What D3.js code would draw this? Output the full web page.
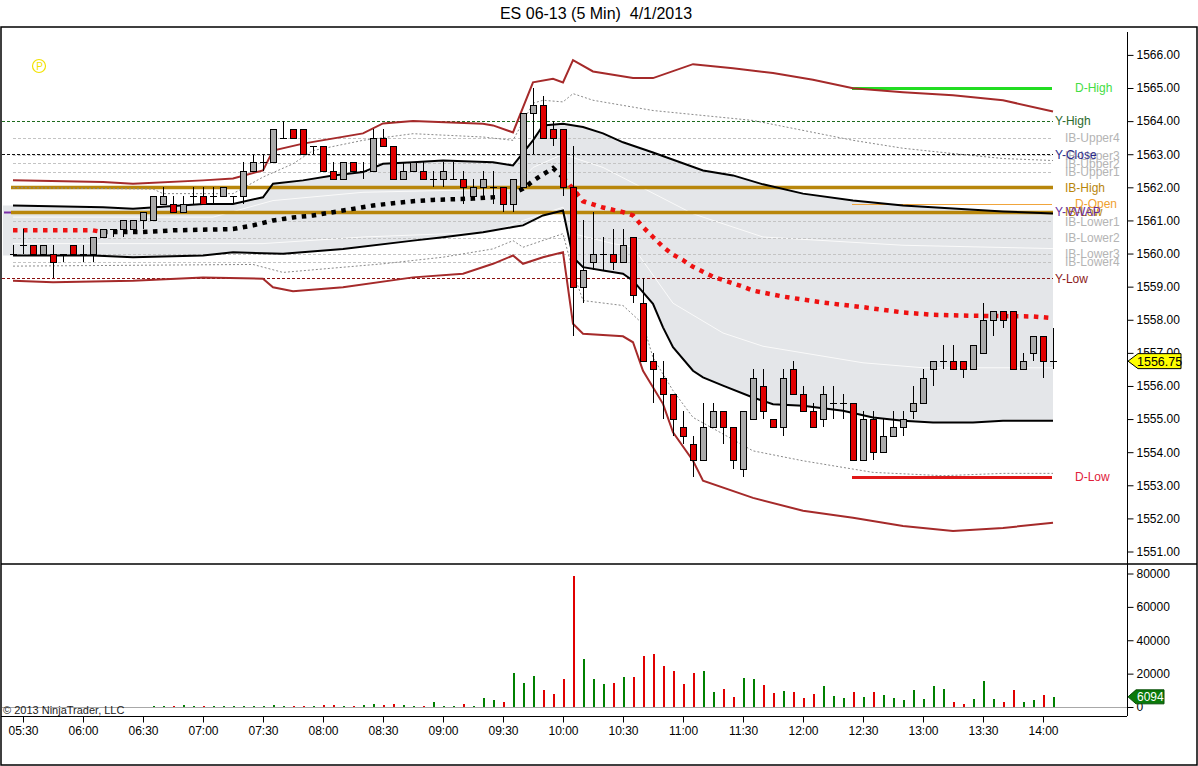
<!DOCTYPE html>
<html>
<head>
<meta charset="utf-8">
<script src="https://cdn.jsdelivr.net/npm/d3@7"></script>
<style>
body { margin: 0; background: #fff; }
svg { display: block; font-family: "Liberation Sans", Arial, sans-serif; }
</style>
</head>
<body>
<div id="chart"></div>
<script>
// ---- data (ES 06-13, 5 min bars, 4/1/2013) ----
var firstBarTime = "05:25";

var opens = [1560.00,1560.25,1560.25,1560.00,1560.00,1560.00,1560.25,1560.00,1560.00,1560.50,
  1560.75,1560.75,1560.75,1561.00,1561.00,1561.50,1561.50,1561.25,1561.75,1561.75,
  1561.75,1561.75,1561.75,1561.75,1562.50,1562.75,1562.75,1563.50,1563.75,1563.75,
  1563.25,1563.25,1562.50,1562.25,1562.75,1562.50,1562.50,1563.50,1563.25,1562.25,
  1562.50,1562.50,1562.25,1562.25,1562.25,1562.25,1561.75,1562.00,1562.00,1562.00,
  1561.50,1562.00,1564.25,1564.50,1563.75,1563.75,1562.00,1559.00,1559.75,1560.00,
  1560.00,1559.75,1560.50,1558.50,1556.75,1556.25,1555.75,1554.75,1554.25,1553.75,
  1554.75,1555.25,1554.75,1553.50,1555.00,1556.00,1555.00,1554.75,1556.50,1555.75,
  1555.25,1555.00,1555.50,1555.50,1555.50,1553.75,1555.00,1554.00,1554.50,1554.75,
  1555.25,1555.50,1556.50,1556.75,1556.75,1556.75,1556.50,1557.00,1558.00,1558.25,
  1558.25,1556.50,1557.00,1557.50,1556.75];
var highs = [1560.25,1560.75,1560.25,1560.25,1560.25,1560.00,1560.25,1560.25,1560.50,1560.75,
  1560.75,1561.00,1561.00,1561.25,1561.75,1562.00,1561.75,1561.75,1562.00,1562.00,
  1562.00,1562.00,1561.75,1562.75,1563.00,1563.00,1563.75,1564.00,1563.75,1563.75,
  1563.25,1563.25,1562.75,1562.75,1562.75,1562.75,1563.75,1563.75,1563.25,1562.75,
  1562.75,1562.75,1562.50,1562.75,1562.75,1562.50,1562.25,1562.50,1562.50,1562.00,
  1562.25,1564.25,1565.00,1564.75,1564.00,1563.75,1563.25,1561.00,1561.25,1560.50,
  1560.75,1560.75,1560.50,1559.25,1557.00,1556.75,1555.75,1555.25,1554.50,1555.50,
  1555.50,1555.25,1554.75,1555.25,1556.50,1556.50,1555.00,1556.50,1556.75,1556.00,
  1555.50,1556.00,1556.00,1555.75,1555.50,1555.25,1555.25,1555.00,1555.25,1555.25,
  1556.00,1556.50,1556.75,1557.25,1557.25,1556.75,1557.25,1558.50,1558.25,1558.25,
  1558.25,1557.00,1557.50,1557.50,1557.75];
var lows = [1560.00,1560.00,1560.00,1560.00,1559.25,1559.75,1560.00,1559.75,1559.75,1560.50,
  1560.50,1560.50,1560.75,1560.75,1561.00,1561.50,1561.25,1561.25,1561.50,1561.50,
  1561.50,1561.75,1561.50,1561.50,1562.50,1562.50,1562.75,1563.50,1563.50,1563.00,
  1563.00,1562.50,1562.25,1562.25,1562.50,1562.25,1562.50,1563.25,1562.25,1562.25,
  1562.50,1562.25,1562.00,1562.00,1562.25,1561.50,1561.75,1561.75,1561.50,1561.25,
  1561.25,1562.00,1563.00,1563.50,1563.25,1561.75,1557.50,1558.50,1559.50,1559.50,
  1559.50,1559.75,1558.50,1556.75,1555.50,1555.00,1554.50,1554.25,1553.25,1553.75,
  1554.75,1554.25,1553.50,1553.25,1555.00,1555.00,1554.75,1554.50,1555.75,1555.25,
  1554.75,1554.75,1555.00,1555.00,1553.75,1553.75,1553.75,1554.00,1554.50,1554.50,
  1555.00,1555.50,1556.00,1556.50,1556.50,1556.25,1556.50,1557.00,1557.50,1557.75,
  1556.50,1556.50,1556.75,1556.25,1556.50];
var closes = [1560.00,1560.25,1560.00,1560.25,1559.75,1560.00,1560.00,1560.00,1560.50,1560.75,
  1560.75,1561.00,1561.00,1561.25,1561.75,1561.75,1561.25,1561.50,1561.75,1561.50,
  1561.75,1562.00,1561.75,1562.50,1562.75,1562.75,1563.75,1563.50,1563.50,1563.00,
  1563.25,1562.50,1562.25,1562.75,1562.50,1562.50,1563.50,1563.25,1562.25,1562.50,
  1562.75,1562.25,1562.25,1562.50,1562.25,1562.00,1562.00,1562.25,1562.00,1561.50,
  1562.25,1564.25,1564.50,1563.50,1563.50,1562.00,1559.00,1559.50,1560.00,1560.00,
  1559.75,1560.25,1558.75,1556.75,1556.50,1555.75,1555.00,1554.50,1553.75,1554.75,
  1555.25,1554.75,1553.75,1555.25,1556.25,1555.25,1554.75,1556.25,1555.75,1555.25,
  1554.75,1555.75,1555.50,1555.50,1553.75,1555.00,1554.00,1554.50,1554.75,1555.00,
  1555.50,1556.25,1556.75,1556.75,1556.50,1556.50,1557.25,1558.00,1558.25,1558.00,
  1556.50,1556.75,1557.50,1556.75,1556.75];
var volumes = [0,0,0,0,0,0,0,0,0,0,
  0,0,0,0,600,600,700,1400,700,300,
  600,300,300,600,600,300,1400,600,300,700,
  700,900,1400,700,300,1200,2000,1400,2000,1200,
  400,700,3200,800,800,2000,800,5600,4400,3200,
  20600,14600,18800,10400,8000,17000,78400,29000,17000,14000,
  14600,18200,18200,30800,32000,24800,21800,14000,20600,21800,
  9200,11000,6200,17600,17000,13400,8600,9800,9200,5600,
  8000,12800,6800,5600,9200,6200,9200,7400,5600,4400,
  10400,5000,12800,11000,3200,2000,5000,15800,5000,3200,
  10400,3200,4400,7400,6094];

var timeLabels = ["05:30","06:00","06:30","07:00","07:30","08:00","08:30","09:00","09:30",
  "10:00","10:30","11:00","11:30","12:00","12:30","13:00","13:30","14:00"];
var priceTicks = [1551,1552,1553,1554,1555,1556,1557,1558,1559,1560,1561,1562,1563,1564,1565,1566];
var volumeTicks = [0,20000,40000,60000,80000];
var lastPrice = 1556.75;

// session VWAP and its bands: [bar index, price]
var vwap = [[0,1560.70],[8,1560.70],[9,1560.65],[13,1560.65],[16,1560.70],[22,1560.74],[24,1560.85],
  [26,1561.00],[28,1561.09],[30,1561.15],[32,1561.25],[34,1561.35],[36,1561.45],[38,1561.52],
  [40,1561.58],[42,1561.62],[46,1561.66],[49,1561.72],[50,1561.80],[51,1561.96],[52,1562.19],
  [53,1562.39],[54,1562.58],[55,1562.30],[56,1561.96],[57,1561.58],[59,1561.39],[61,1561.25],
  [62,1561.15],[63,1560.80],[64,1560.50],[65,1560.20],[66,1559.97],[67,1559.80],[68,1559.60],
  [69,1559.45],[70,1559.30],[71,1559.20],[72,1559.10],[73,1559.00],[74,1558.88],[77,1558.70],
  [81,1558.52],[85,1558.38],[89,1558.22],[92,1558.15],[96,1558.12],[102,1558.10],[104,1558.05]];
var vwapSides = [[0,9,"below"],[9,55,"above"],[55,104,"below"]];

var band1Upper = [[0,1561.45],[9,1561.40],[12,1561.35],[19,1561.50],[22,1561.50],[25,1561.70],
  [26,1562.11],[29,1562.21],[32,1562.36],[35,1562.46],[37,1562.71],[40,1562.76],[43,1562.81],
  [48,1562.76],[50,1562.66],[52,1563.42],[53,1563.87],[55,1563.92],[57,1563.82],[59,1563.63],
  [61,1563.36],[64,1563.05],[69,1562.51],[72,1562.36],[75,1562.09],[79,1561.81],[84,1561.60],
  [89,1561.45],[94,1561.36],[99,1561.27],[104,1561.21]];
var band1Lower = [[0,1559.94],[8,1559.94],[12,1559.89],[19,1559.94],[22,1560.04],[27,1559.99],
  [33,1560.14],[40,1560.39],[43,1560.49],[47,1560.64],[50,1560.80],[51,1560.85],[53,1561.15],
  [55,1561.30],[56,1559.89],[57,1559.59],[59,1559.49],[61,1559.39],[62,1559.18],[64,1558.48],
  [65,1557.77],[66,1557.17],[68,1556.46],[69,1556.26],[71,1556.01],[74,1555.65],[76,1555.45],
  [79,1555.40],[83,1555.25],[86,1555.05],[89,1554.95],[92,1554.90],[96,1554.90],[99,1554.95],
  [104,1554.95]];
var band2Upper = [[0,1561.99],[14,1561.95],[15,1561.81],[22,1561.81],[25,1562.31],[28,1562.71],
  [30,1563.11],[35,1563.42],[40,1563.62],[47,1563.52],[50,1563.42],[52,1564.54],[53,1564.63],
  [55,1564.58],[56,1564.83],[58,1564.63],[64,1564.32],[69,1564.17],[74,1564.02],[79,1563.72],
  [84,1563.42],[89,1563.18],[94,1563.02],[99,1562.87],[104,1562.81]];
var band2Lower = [[0,1559.62],[24,1559.67],[27,1559.43],[37,1559.69],[43,1559.89],[48,1560.14],
  [50,1560.39],[51,1560.19],[55,1560.60],[56,1559.45],[57,1558.58],[61,1558.43],[63,1557.87],
  [64,1556.86],[66,1555.86],[68,1555.05],[71,1554.55],[74,1554.04],[79,1553.74],[86,1553.39],
  [93,1553.29],[99,1553.36],[104,1553.36]];
var band3Upper = [[0,1562.21],[9,1562.16],[12,1562.11],[19,1562.21],[22,1562.27],[25,1562.51],
  [26,1563.11],[29,1563.32],[35,1563.63],[37,1563.93],[40,1564.00],[47,1563.92],[48,1563.87],
  [50,1563.66],[52,1565.17],[54,1565.28],[55,1565.17],[56,1565.84],[58,1565.50],[62,1565.30],
  [64,1565.30],[68,1565.72],[72,1565.60],[76,1565.45],[80,1565.25],[84,1564.99],[89,1564.87],
  [94,1564.78],[99,1564.63],[104,1564.29]];
var band3Lower = [[0,1559.18],[4,1559.13],[12,1559.18],[19,1559.28],[25,1559.24],[26,1558.98],
  [28,1558.86],[33,1558.98],[40,1559.28],[45,1559.39],[48,1559.69],[50,1559.94],[51,1559.69],
  [53,1559.89],[55,1560.04],[56,1557.88],[57,1557.58],[61,1557.50],[62,1557.32],[63,1556.46],
  [65,1555.46],[66,1554.60],[68,1553.74],[69,1553.14],[74,1552.62],[79,1552.23],[84,1552.02],
  [89,1551.77],[94,1551.62],[99,1551.71],[104,1551.87]];
var halfUpper = [[0,1561.10],[20,1561.10],[26,1561.60],[35,1561.85],[50,1561.95],[52,1562.60],
  [55,1563.00],[59,1562.60],[68,1561.20],[75,1560.50],[89,1560.25],[104,1560.15]];
var halfLower = [[0,1560.30],[25,1560.30],[35,1560.50],[48,1560.65],[51,1561.00],[55,1561.40],
  [56,1560.60],[60,1560.30],[62,1560.20],[66,1558.50],[71,1557.60],[75,1557.20],[85,1556.70],
  [91,1556.55],[104,1556.55]];

// key levels, listed in drawing order (later ones cover earlier ones)
var levelNames  = ["IB-Upper4","IB-Upper3","IB-Upper2","IB-Upper1","IB-Lower1","IB-Lower2",
  "IB-Lower3","IB-Lower4","Y-High","Y-Close","Y-Low","Y-VWAP","IB-High","IB-Low","D-Open","D-High","D-Low"];
var levelValues = [1563.50,1562.97,1562.72,1562.47,1560.97,1560.47,
  1560.00,1559.74,1564.00,1563.00,1559.25,1561.25,1562.00,1561.25,1561.50,1565.00,1553.25];
var levelStartBar = {"D-Open":84,"D-High":84,"D-Low":84};

// ---- layout ----
var W = 1198, H = 766;
var plotL = 2, axisX = 1127, priceTop = 28, priceBottom = 563, volBottom = 716;

var svg = d3.select("#chart").append("svg").attr("width", W).attr("height", H);
svg.append("rect").attr("width", W).attr("height", H).attr("fill", "#fff");

var x = d3.scaleLinear().domain([0, 104]).range([13, 1053]);
var y = d3.scaleLinear().domain([1551, 1566]).range([551.5, 54.9]);
var yv = d3.scaleLinear().domain([0, 80000]).range([707, 573.5]);

var toMin = function(t){ var p = t.split(":"); return +p[0]*60 + (+p[1]); };
var barOf = function(t){ return (toMin(t) - toMin(firstBarTime)) / 5; };

var bars = opens.map(function(o, i){
  return {i: i, o: o, h: highs[i], l: lows[i], c: closes[i], v: volumes[i]};
});

svg.append("clipPath").attr("id", "pclip").append("rect")
  .attr("x", plotL).attr("y", priceTop).attr("width", axisX - plotL).attr("height", priceBottom - priceTop);
var P = svg.append("g").attr("clip-path", "url(#pclip)");

var line = d3.line().x(function(d){ return x(d[0]); }).y(function(d){ return y(d[1]); });

// gray band between the 1st deviation lines
var upPts = band1Upper.map(function(d){ return [x(d[0]), y(d[1])]; });
var loPts = band1Lower.map(function(d){ return [x(d[0]), y(d[1])]; }).reverse();
var poly = [[plotL + 1, upPts[0][1]]].concat(upPts, loPts, [[plotL + 1, loPts[loPts.length-1][1]]]);
P.append("path").attr("d", "M" + poly.join("L") + "Z").attr("fill", "#e4e6e9");

// white half-deviation lines inside the band
[halfUpper, halfLower].forEach(function(s){
  P.append("path").attr("d", line(s)).attr("fill", "none")
    .attr("stroke", "#fafafa").attr("stroke-width", 1);
});

// level lines
var levelStyle = function(n){
  if (n === "Y-High")  return {c: "#1d6b1d", lc: "#2d6a2d", w: 1, dash: "3,2", x0: plotL};
  if (n === "Y-Close") return {c: "#111", lc: "#2a2a8a", w: 1, dash: "3,2", x0: plotL};
  if (n === "Y-Low")   return {c: "#8b1010", lc: "#8b1a1a", w: 1, dash: "3,2", x0: plotL};
  if (n === "Y-VWAP")  return {c: "#7a2fa8", lc: "#6a2c9a", w: 2, dash: null, x0: plotL + 2};
  if (n === "IB-High" || n === "IB-Low") return {c: "#b8860b", lc: "#b8860b", w: 3.5, dash: null, x0: 11};
  if (n === "D-Open")  return {c: "#f0a53c", lc: "#f0a030", w: 1, dash: null};
  if (n === "D-High")  return {c: "#22dd22", lc: "#44dd44", w: 3, dash: null};
  if (n === "D-Low")   return {c: "#e01818", lc: "#e0203a", w: 3, dash: null};
  return {c: "#c4c4c4", lc: "#b4b4b4", w: 1, dash: "3,2", x0: 13};
};
var labelX = function(n){ return n.indexOf("Y-") === 0 ? 1055 : (n.indexOf("IB-") === 0 ? 1065 : 1075); };

levelNames.forEach(function(n, k){
  var s = levelStyle(n);
  var x0 = (n in levelStartBar) ? x(levelStartBar[n]) - 1 : s.x0;
  var x1 = (n in levelStartBar) ? x(104) - 1 : x(104);
  var ly = Math.round(y(levelValues[k])) + 0.5;
  P.append("line").attr("x1", x0).attr("x2", x1).attr("y1", ly).attr("y2", ly)
    .attr("stroke", s.c).attr("stroke-width", s.w).attr("stroke-dasharray", s.dash);
});

// 2nd deviation (thin dashed) and 3rd deviation (dark red) bands
[band2Upper, band2Lower].forEach(function(s){
  P.append("path").attr("d", line(s)).attr("fill", "none")
    .attr("stroke", "#8a8a8a").attr("stroke-width", 1).attr("stroke-dasharray", "2,2");
});
[band3Upper, band3Lower].forEach(function(s){
  P.append("path").attr("d", line(s)).attr("fill", "none")
    .attr("stroke", "#a52a2a").attr("stroke-width", 2);
});
[band1Upper, band1Lower].forEach(function(s){
  P.append("path").attr("d", line(s)).attr("fill", "none")
    .attr("stroke", "#000").attr("stroke-width", 2);
});

// VWAP, dotted, red while price is below it
vwapSides.forEach(function(seg){
  var pts = vwap.filter(function(d){ return d[0] >= seg[0] && d[0] <= seg[1]; });
  P.append("path").attr("d", line(pts)).attr("fill", "none")
    .attr("stroke", seg[2] === "below" ? "#ee1111" : "#000")
    .attr("stroke-width", 4.5).attr("stroke-dasharray", "4.5,5.5");
});

// candles
var C = P.append("g").attr("shape-rendering", "crispEdges");
bars.forEach(function(b){
  var cx = Math.round(x(b.i));
  C.append("line").attr("x1", cx + 0.5).attr("x2", cx + 0.5)
    .attr("y1", y(b.h)).attr("y2", y(b.l)).attr("stroke", "#000");
  if (b.o === b.c) {
    C.append("line").attr("x1", cx - 3).attr("x2", cx + 4)
      .attr("y1", Math.round(y(b.o)) + 0.5).attr("y2", Math.round(y(b.o)) + 0.5).attr("stroke", "#000");
  } else {
    var top = y(Math.max(b.o, b.c)), bot = y(Math.min(b.o, b.c));
    C.append("rect").attr("x", cx - 2.5).attr("y", Math.round(top) + 0.5)
      .attr("width", 6).attr("height", Math.round(bot) - Math.round(top))
      .attr("fill", b.c > b.o ? "#a9a9a9" : "#e00000").attr("stroke", "#000");
  }
});

// volume
svg.append("line").attr("x1", plotL).attr("x2", axisX).attr("y1", yv(0) + 0.5).attr("y2", yv(0) + 0.5)
  .attr("stroke", "#a8a8a8");
svg.append("g").attr("shape-rendering", "crispEdges").selectAll("rect")
  .data(bars.filter(function(d){ return d.v > 0; })).enter().append("rect")
  .attr("x", function(d){ return Math.round(x(d.i)) - 0.5; })
  .attr("y", function(d){ return yv(d.v); })
  .attr("width", 2)
  .attr("height", function(d){ return yv(0) - yv(d.v); })
  .attr("fill", function(d){ return d.c >= d.o ? "#008000" : "#e00000"; });

// frames
svg.append("rect").attr("x", 1).attr("y", 27).attr("width", 1196).attr("height", 738)
  .attr("fill", "none").attr("stroke", "#000").attr("stroke-width", 1.5);
svg.append("line").attr("x1", 1).attr("x2", 1197).attr("y1", 564).attr("y2", 564)
  .attr("stroke", "#000").attr("stroke-width", 1.5);
svg.append("line").attr("x1", axisX + 0.5).attr("x2", axisX + 0.5).attr("y1", 32).attr("y2", volBottom)
  .attr("stroke", "#000");
svg.append("line").attr("x1", 1).attr("x2", axisX).attr("y1", volBottom + 0.5).attr("y2", volBottom + 0.5)
  .attr("stroke", "#000");

// axes
var fmtAxis = function(g){
  g.select(".domain").remove();
  g.selectAll("text").attr("fill", "#000").style("font-size", "12px")
    .style("font-family", "'Liberation Sans', Arial, sans-serif");
  g.selectAll("line").attr("stroke", "#000");
};
svg.append("g").attr("transform", "translate(" + (axisX + 0.5) + ",0)")
  .call(d3.axisRight(y).tickValues(priceTicks).tickFormat(d3.format(".2f")).tickSize(6).tickPadding(3))
  .call(fmtAxis);
svg.append("g").attr("transform", "translate(" + (axisX + 0.5) + ",0)")
  .call(d3.axisRight(yv).tickValues(volumeTicks).tickFormat(d3.format("d")).tickSize(6).tickPadding(3))
  .call(fmtAxis);
svg.append("g").attr("transform", "translate(0," + (volBottom + 0.5) + ")")
  .call(d3.axisBottom(x).tickValues(timeLabels.map(barOf))
    .tickFormat(function(d, k){ return timeLabels[k]; }).tickSize(6).tickPadding(4))
  .call(fmtAxis);

// level labels (Y-VWAP last so it sits over IB-Low, as in the original)
var labelOrder = levelNames.filter(function(n){ return n !== "Y-VWAP"; }).concat(["Y-VWAP"]);
labelOrder.forEach(function(n){
  var k = levelNames.indexOf(n);
  svg.append("text").attr("x", labelX(n)).attr("y", y(levelValues[k])).attr("dy", "0.36em")
    .attr("fill", levelStyle(n).lc).style("font-size", "12px").text(n);
});

// last price and last volume markers
var lpy = y(lastPrice);
svg.append("path")
  .attr("d", "M" + (axisX + 1) + "," + lpy + "L" + (axisX + 11) + "," + (lpy - 7.5) + "H1181V" + (lpy + 7.5) + "H" + (axisX + 11) + "Z")
  .attr("fill", "#ffff00").attr("stroke", "#000");
svg.append("text").attr("x", axisX + 10).attr("y", lpy).attr("dy", "0.36em")
  .style("font-size", "12.5px").attr("fill", "#000").text(d3.format(".2f")(lastPrice));
var lv = yv(volumes[volumes.length - 1]);
svg.append("path")
  .attr("d", "M" + (axisX + 1) + "," + lv + "L" + (axisX + 9) + "," + (lv - 7) + "H1164V" + (lv + 7) + "H" + (axisX + 9) + "Z")
  .attr("fill", "#0a7a0a").attr("stroke", "#064d06");
svg.append("text").attr("x", axisX + 10).attr("y", lv).attr("dy", "0.36em")
  .style("font-size", "12px").attr("fill", "#fff").text(volumes[volumes.length - 1]);

// title, copyright and the small icon
svg.append("text").attr("x", 596).attr("y", 19).attr("text-anchor", "middle")
  .style("font-size", "16px").style("white-space", "pre").attr("fill", "#000")
  .text("ES 06-13 (5 Min)  4/1/2013");
svg.append("text").attr("x", 3).attr("y", 714).style("font-size", "11px").attr("fill", "#222")
  .text("\u00a9 2013 NinjaTrader, LLC");
svg.append("circle").attr("cx", 39).attr("cy", 66).attr("r", 6.5)
  .attr("fill", "none").attr("stroke", "#f2e200").attr("stroke-width", 1.2);
svg.append("text").attr("x", 39.5).attr("y", 66).attr("dy", "0.36em").attr("text-anchor", "middle")
  .style("font-size", "10px").attr("fill", "#f2e200").text("P");
</script>
</body>
</html>
